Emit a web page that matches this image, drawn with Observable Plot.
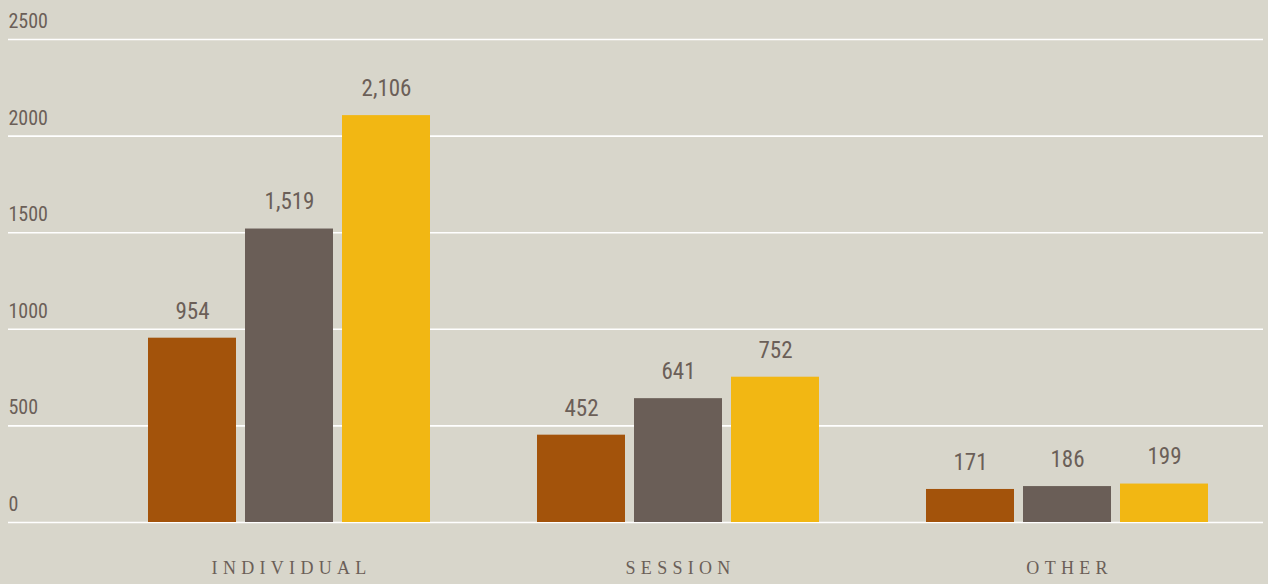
<!DOCTYPE html>
<html>
<head>
<meta charset="utf-8">
<script src="https://cdn.jsdelivr.net/npm/d3@7"></script>
<script src="https://cdn.jsdelivr.net/npm/@observablehq/plot@0.6"></script>
<style>
  html, body { margin: 0; padding: 0; background: #d8d6cb; }
  #chart { position: relative; width: 1268px; height: 584px; }
  #chart svg { display: block; position: absolute; left: 0; top: 0; }
  [aria-label="fx-axis tick label"] text { letter-spacing: 5.3px; }
</style>
</head>
<body>
<div id="chart"></div>
<script>
// ---- data ----
const categories = ["INDIVIDUAL", "SESSION", "OTHER"];
const seriesNames = ["Series 1", "Series 2", "Series 3"];
const series1 = [954, 452, 171];
const series2 = [1519, 641, 186];
const series3 = [2106, 752, 199];
const yTicks = [0, 500, 1000, 1500, 2000, 2500];
const seriesColors = ["#a3530b", "#6a5e57", "#f2b713"];

const seriesValues = [series1, series2, series3];
const rows = [];
categories.forEach((c, i) => {
  seriesNames.forEach((s, j) => {
    rows.push({category: c, series: s, value: seriesValues[j][i]});
  });
});

const textColor = "#6b5f58";
const numFont = "'Roboto Condensed', 'Liberation Sans Narrow', 'DejaVu Sans Condensed', Roboto, sans-serif";
const serifFont = "'Liberation Serif', 'DejaVu Serif', serif";

const common = {
  width: 1268,
  height: 584,
  marginTop: 39,
  marginBottom: 62,
  marginLeft: 8,
  marginRight: 5,
  y: {domain: [0, 2500], axis: null}
};

// Background layer: gridlines and y tick labels across the full width
const grid = Plot.plot({
  ...common,
  style: {background: "#d8d6cb", color: textColor, fontFamily: numFont},
  marks: [
    Plot.ruleY(yTicks, {y: d => d, stroke: "#ffffff", strokeWidth: 1.6}),
    Plot.text(yTicks, {
      y: d => d, text: d => String(d),
      frameAnchor: "left", textAnchor: "start", lineAnchor: "middle",
      dy: -18, fontSize: 20, fill: textColor, fontFamily: numFont
    })
  ]
});

// Foreground layer: grouped bars via fx facets
const bars = Plot.plot({
  ...common,
  style: {background: "transparent", color: textColor, fontFamily: numFont},
  fx: {domain: categories, range: [93.2, 1261.2], padding: 0, label: null},
  x: {domain: seriesNames, paddingInner: 0.0974, paddingOuter: 0.545, axis: null},
  color: {domain: seriesNames, range: seriesColors},
  marks: [
    Plot.barY(rows, {fx: "category", x: "series", y: "value", fill: "series"}),
    Plot.text(rows, {
      fx: "category", x: "series", y: "value",
      text: d => d3.format(",")(d.value),
      dy: -27, lineAnchor: "middle", fontSize: 23, fill: textColor, fontFamily: numFont
    }),
    Plot.axisFx({
      anchor: "bottom", tickSize: 0, tickPadding: 39, label: null,
      fontSize: 18, fill: textColor, fontFamily: serifFont, dx: 2.6
    })
  ]
});

document.getElementById("chart").append(grid, bars);
</script>
</body>
</html>
